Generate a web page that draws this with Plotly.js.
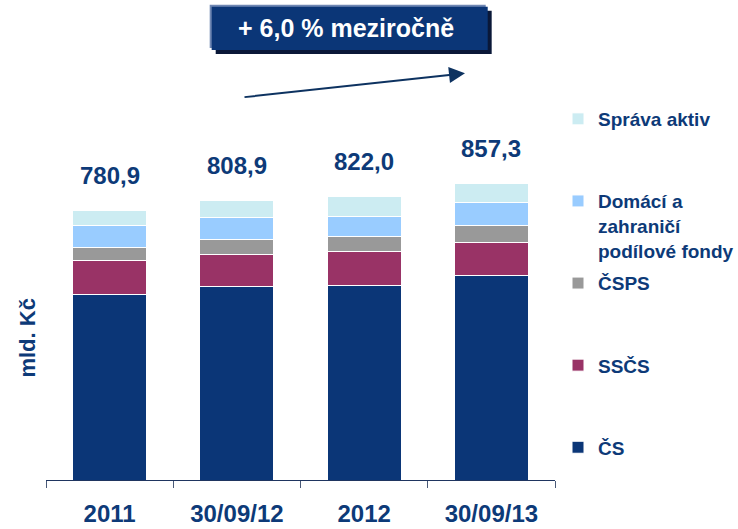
<!DOCTYPE html>
<html>
<head>
<meta charset="utf-8">
<script src="https://cdn.plot.ly/plotly-3.0.1.min.js"></script>
<style>html,body{margin:0;padding:0;background:#fff;}#chart{width:738px;height:529px;}</style>
</head>
<body>
<div id="chart"></div>
<script>
// ---- data ----
var categories = ['2011', '30/09/12', '2012', '30/09/13'];
var seriesNames = ['ČS', 'SSČS', 'ČSPS', 'Domácí a<br>zahraničí<br>podílové fondy', 'Správa aktiv'];
var csValues      = [537.7, 559.9, 564.3, 590.8];
var sscsValues    = [98.5, 93.8, 97.6, 96.4];
var cspsValues    = [37.6, 43.4, 43.4, 48.4];
var fondyValues   = [63.7, 62.6, 57.9, 67.5];
var spravaValues  = [43.4, 49.2, 58.8, 54.2];
var totals        = [780.9, 808.9, 822.0, 857.3];
var growthLabel = '+ 6,0 % meziročně';
var yTitle = 'mld. Kč';

var seriesValues = [csValues, sscsValues, cspsValues, fondyValues, spravaValues];
var colors = ['#0B3677', '#993366', '#999999', '#99CCFF', '#CCECF2'];
var navy = '#0d3a78';
var FONT = 'Liberation Sans, Arial, sans-serif';

function padLines(name) {
  var n = name.split('<br>').length;
  var s = name;
  for (var i = n; i < 3; i++) s += '<br>\u00a0';
  return s;
}

var traces = seriesValues.map(function (vals, i) {
  return {
    type: 'bar',
    x: categories,
    y: vals,
    name: padLines(seriesNames[i]),
    legendgroup: 'g' + i,
    legendrank: seriesValues.length - i,
    marker: {color: colors[i], line: {color: '#ffffff', width: 1}},
    hoverinfo: 'skip'
  };
});

var annotations = categories.map(function (c, i) {
  return {
    x: i, y: totals[i], xref: 'x', yref: 'y',
    text: totals[i].toFixed(1).replace('.', ','),
    showarrow: false, xanchor: 'center', yanchor: 'middle', yshift: 35,
    font: {family: FONT, size: 24, color: navy, weight: 'bold'}
  };
});

annotations.push({
  xref: 'paper', yref: 'paper', x: -0.036, y: 0.374,
  xanchor: 'center', yanchor: 'middle',
  text: yTitle, textangle: -90, showarrow: false,
  font: {family: FONT, size: 22, color: navy, weight: 'bold'}
});

annotations.push({
  xref: 'paper', yref: 'paper', x: 0.589, y: 1.189,
  xanchor: 'center', yanchor: 'middle',
  text: growthLabel, showarrow: false,
  font: {family: FONT, size: 25, color: '#ffffff', weight: 'bold'}
});

annotations.push({
  xref: 'paper', yref: 'paper', x: 0.8232, y: 1.0703,
  ax: -222, ay: 24, axref: 'pixel', ayref: 'pixel',
  text: '', showarrow: true, arrowhead: 2, arrowsize: 1.6, arrowwidth: 2,
  arrowcolor: '#0d3260'
});

var shapes = [
  {type: 'rect', xref: 'paper', yref: 'paper', x0: 0.3334, x1: 0.8756, y0: 1.1211, y1: 1.235,
   fillcolor: '#0a1838', line: {width: 0}},
  {type: 'rect', xref: 'paper', yref: 'paper', x0: 0.3216, x1: 0.8639, y0: 1.1368, y1: 1.2508,
   fillcolor: '#6f87b3', line: {width: 0}},
  {type: 'rect', xref: 'paper', yref: 'paper', x0: 0.3255, x1: 0.8678, y0: 1.1316, y1: 1.2455,
   fillcolor: '#0B3677', line: {width: 0}}
];

var layout = {
  width: 738, height: 529, autosize: false,
  margin: {l: 46, r: 183, t: 100, b: 49, pad: 0, autoexpand: false},
  paper_bgcolor: '#ffffff', plot_bgcolor: '#ffffff',
  barmode: 'stack', bargap: 0.42,
  font: {family: FONT, color: navy},
  xaxis: {
    type: 'category', range: [-0.5, 3.5],
    showline: true, linecolor: '#1f3560', linewidth: 1,
    ticks: 'outside', tickson: 'boundaries', ticklen: 7, tickcolor: '#4a5a78', tickwidth: 1,
    ticklabelstandoff: 12,
    tickfont: {family: FONT, size: 24, color: navy, weight: 'bold'},
    showgrid: false, zeroline: false, fixedrange: true
  },
  yaxis: {
    range: [0, 1100], showgrid: false, zeroline: false, showline: false,
    showticklabels: false, ticks: '', fixedrange: true
  },
  showlegend: true,
  legend: {
    x: 1.0059, xanchor: 'left', y: 1.0, yanchor: 'top',
    traceorder: 'grouped', tracegroupgap: 5, valign: 'top',
    bgcolor: 'rgba(0,0,0,0)', borderwidth: 0,
    font: {family: FONT, size: 19, color: navy, weight: 'bold'}
  },
  annotations: annotations,
  shapes: shapes
};

Plotly.newPlot('chart', traces, layout, {displayModeBar: false, staticPlot: true});
</script>
</body>
</html>
